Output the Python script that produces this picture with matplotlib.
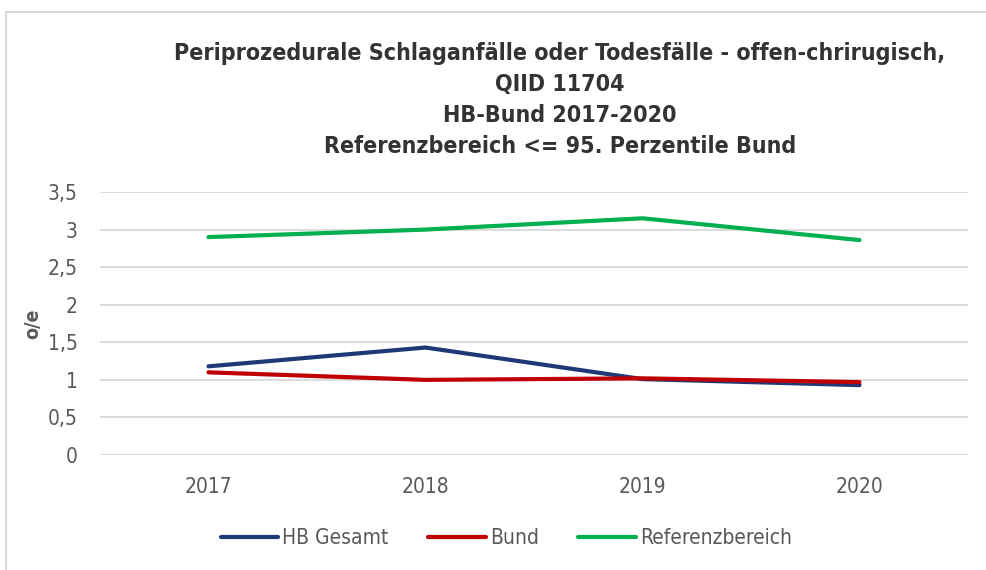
import matplotlib
matplotlib.use('Agg')
import matplotlib.pyplot as plt
from matplotlib.lines import Line2D

years = ['2017', '2018', '2019', '2020']
hb_gesamt = [1.18, 1.43, 1.01, 0.93]
bund = [1.10, 1.00, 1.02, 0.97]
referenz = [2.90, 3.00, 3.15, 2.86]
y_ticks = [0, 0.5, 1, 1.5, 2, 2.5, 3, 3.5]
y_tick_labels = ['0', '0,5', '1', '1,5', '2', '2,5', '3', '3,5']

plt.rcParams['font.family'] = ['DejaVu Sans']
plt.rcParams['font.stretch'] = 'condensed'

fig = plt.figure(figsize=(9.87, 5.70), dpi=100)
ax = fig.add_axes([100 / 987, 115 / 570, 868 / 987, 263 / 570])

x = list(range(len(years)))
ax.plot(x, hb_gesamt, color='#1f3876', lw=3, label='HB Gesamt', solid_capstyle='round')
ax.plot(x, bund, color='#c00000', lw=3, label='Bund', solid_capstyle='round')
ax.plot(x, referenz, color='#00b050', lw=3, label='Referenzbereich', solid_capstyle='round')

ax.set_xlim(-0.5, len(years) - 0.5)
ax.set_ylim(0, 3.5)
ax.set_yticks(y_ticks)
ax.set_yticklabels(y_tick_labels)
ax.set_xticks(x)
ax.set_xticklabels(years)
ax.grid(axis='y', color='#d9d9d9', lw=1.3)
ax.set_axisbelow(True)
for s in ax.spines.values():
    s.set_visible(False)
ax.tick_params(length=0, labelsize=15, colors='#595959')
ax.tick_params(axis='y', pad=16)
ax.tick_params(axis='x', pad=16)
ax.set_ylabel('o/e', fontsize=14, color='#595959', fontweight='bold', labelpad=4)

fig.text(0.567, 0.926, 'Periprozedurale Schlaganfälle oder Todesfälle - offen-chrirugisch,\n'
         'QIID 11704\nHB-Bund 2017-2020\nReferenzbereich <= 95. Perzentile Bund',
         ha='center', va='top', fontsize=16.7, fontweight='bold', color='#333333',
         linespacing=1.44)

fig.legend(loc='center', bbox_to_anchor=(0.513, 0.056), ncol=3, frameon=False,
           fontsize=15, labelcolor='#595959', handlelength=2.75, handletextpad=0.2,
           columnspacing=1.9)

# Rahmen (nur oben und links sichtbar)
fig.lines.append(Line2D([6 / 987, 1], [1 - 12 / 570, 1 - 12 / 570], transform=fig.transFigure,
                        color='#d9d9d9', lw=1.5))
fig.lines.append(Line2D([6 / 987, 6 / 987], [0, 1 - 12 / 570], transform=fig.transFigure,
                        color='#d9d9d9', lw=1.5))

fig.savefig('out.png', dpi=100)
